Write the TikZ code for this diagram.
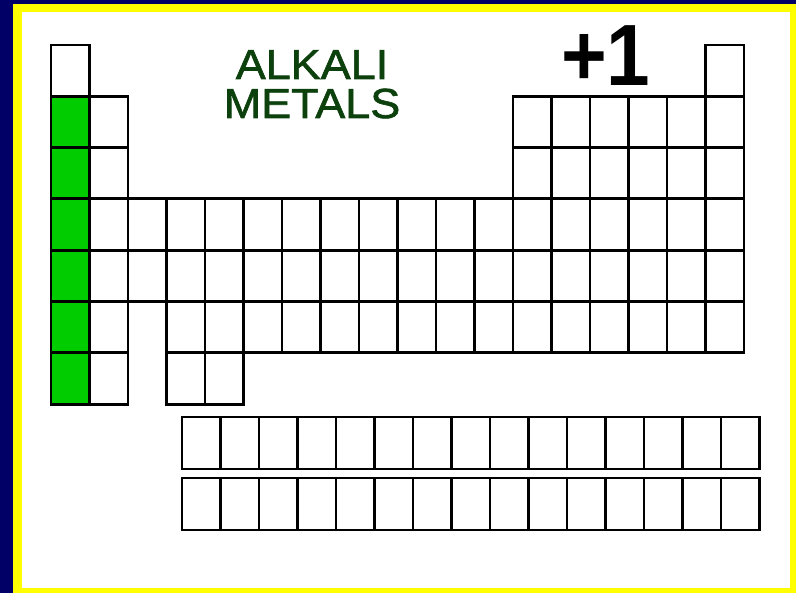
\documentclass[tikz,border=0pt]{standalone}
\usepackage{fontspec}
\setmainfont{Liberation Sans}
\newfontfamily\handfont[FakeStretch=1.07,FakeBold=1.5]{Liberation Sans}
\newfontfamily\plusfont[FakeStretch=0.9]{Liberation Sans Bold}
\definecolor{navyc}{RGB}{0,0,102}
\definecolor{yel}{RGB}{255,255,0}
\definecolor{alkgreen}{RGB}{0,204,0}
\definecolor{dkgreen}{RGB}{12,64,12}
\begin{document}
\begin{tikzpicture}[x=1pt,y=-1pt,
  cell/.style={draw=black,line width=2.9pt,minimum width=38.5pt,minimum height=51.3pt,
    inner sep=0pt,outer sep=0pt,anchor=north west,fill=white},
  alk/.style={cell,fill=alkgreen},
  fcell/.style={cell,minimum height=52pt},
  handtext/.style={font=\handfont\fontsize{42}{42}\selectfont,text=dkgreen,anchor=base,inner sep=0pt}]
\useasboundingbox (0,0) rectangle (796,593);
\fill[navyc] (0,0) rectangle (796,593);
\fill[yel] (13,4) rectangle (796,593);
\fill[white] (22,12) rectangle (790,588);
% main table
\foreach \r/\cols in {1/{1,18},2/{2,13,14,15,16,17,18},3/{2,13,14,15,16,17,18},
  4/{2,3,4,5,6,7,8,9,10,11,12,13,14,15,16,17,18},5/{2,3,4,5,6,7,8,9,10,11,12,13,14,15,16,17,18},
  6/{2,4,5,6,7,8,9,10,11,12,13,14,15,16,17,18},7/{2,4,5}}{
  \foreach \c in \cols{
    \node[cell] (e-\r-\c) at ({51+(\c-1)*38.5},{45+(\r-1)*51.3}) {};
  }
}
% alkali metals column
\foreach \r in {2,...,7}{
  \node[alk] (a-\r) at (51,{45+(\r-1)*51.3}) {};
}
% f-block rows
\foreach \c in {1,...,15}{
  \node[fcell] (la-\c) at ({182+(\c-1)*38.5},417) {};
  \node[fcell] (ac-\c) at ({182+(\c-1)*38.5},478) {};
}
% labels
\node[handtext] (t1) at (312,79) {ALKALI};
\node[handtext] (t2) at (312,118) {METALS};
\node[font=\plusfont\fontsize{87}{87}\selectfont,anchor=base west,inner sep=0pt] (p1) at (561,86) {+1};
\end{tikzpicture}
\end{document}
